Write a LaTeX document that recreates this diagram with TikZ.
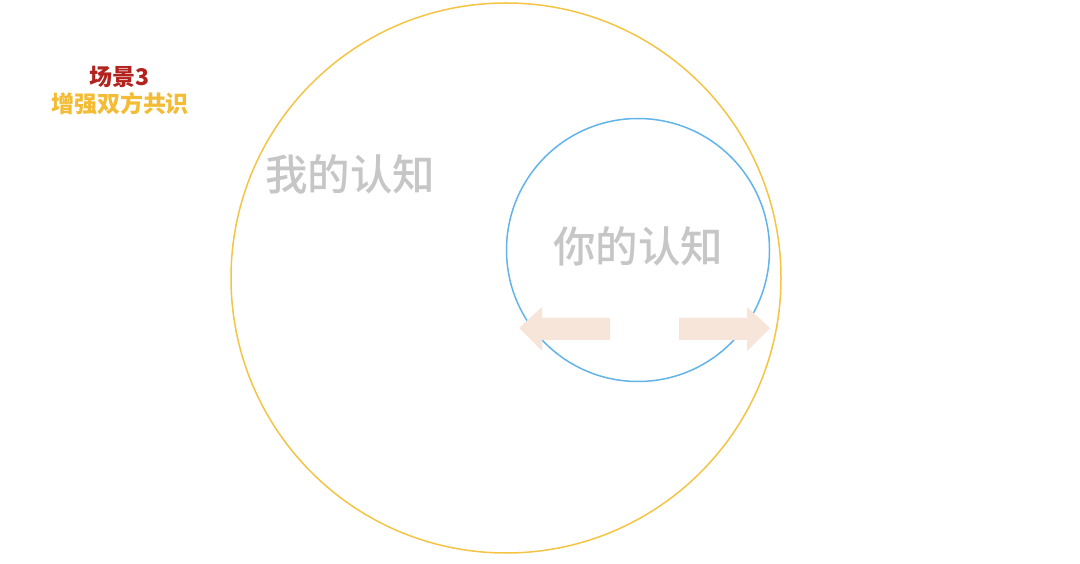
\documentclass[tikz,border=0pt]{standalone}
\usepackage{fontspec}
\newfontfamily\cjk{Noto Sans CJK SC Medium}
\newfontfamily\cjkb{Noto Sans CJK SC Black}
\definecolor{ringY}{HTML}{F5C445}
\definecolor{ringB}{HTML}{62B4EA}
\definecolor{peach}{HTML}{F7E5D9}
\definecolor{txtgray}{HTML}{C6C6C6}
\definecolor{ttlred}{HTML}{B2221E}
\definecolor{ttlyel}{HTML}{F3BC34}
\tikzset{
  lbl/.style={font=\cjk\fontsize{42.5}{46}\selectfont, text=txtgray, inner sep=0pt},
  ttl/.style={font=\cjkb\fontsize{23}{26}\selectfont, inner sep=0pt},
  arr/.style={fill=peach, draw=none}
}
\begin{document}
\begin{tikzpicture}[x=1pt,y=1pt]
\useasboundingbox (0,0) rectangle (1080,563);
\fill[white] (0,0) rectangle (1080,563);
% circles
\draw[ringY, line width=1.5pt] (506,285) circle (275);
\draw[ringB, line width=1.5pt] (638,313) circle (131.5);
% arrows
\fill[arr] (610,223) -- (542,223) -- (542,212) -- (519,235) -- (542,256) -- (542,245) -- (610,245) -- cycle;
\fill[arr] (679,223) -- (747,223) -- (747,212) -- (770,235) -- (747,256) -- (747,245) -- (679,245) -- cycle;
% labels
\node[lbl] (mine) at (350,389) {我的认知};
\node[lbl] (yours) at (638,317) {你的认知};
\node[ttl, text=ttlred] (scene) at (120,486) {场景3};
\node[ttl, text=ttlyel] (topic) at (120,459) {增强双方共识};
\end{tikzpicture}
\end{document}
